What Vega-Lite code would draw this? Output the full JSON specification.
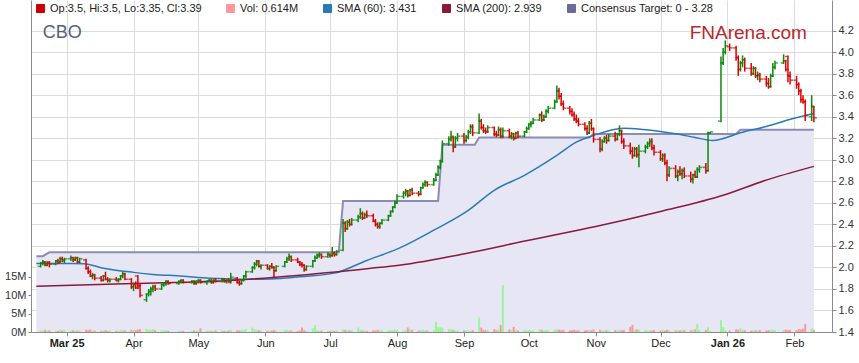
{
  "$schema": "https://vega.github.io/schema/vega-lite/v6.json",
  "width": 801,
  "height": 332,
  "autosize": {"type": "none"},
  "padding": {"left": 31, "top": 0, "right": 27, "bottom": 31},
  "background": "white",
  "config": {
    "view": {"stroke": null},
    "font": "Liberation Sans",
    "axis": {"labelFont": "Liberation Sans", "labelFontSize": 11, "labelColor": "#222222", "domainColor": "#8a8a8a", "tickColor": "#8a8a8a", "gridColor": "#dcdcdc", "gridWidth": 1, "title": null, "labelOverlap": false}
  },
  "datasets": {
    "ohlc": [
      {"d":"2025-02-17","o":2.01,"h":2.05,"l":2.00,"c":2.04,"v":0.5},
      {"d":"2025-02-18","o":2.04,"h":2.07,"l":2.02,"c":2.05,"v":0.4},
      {"d":"2025-02-19","o":2.05,"h":2.06,"l":2.01,"c":2.02,"v":0.6},
      {"d":"2025-02-20","o":2.02,"h":2.06,"l":2.01,"c":2.05,"v":0.4},
      {"d":"2025-02-21","o":2.04,"h":2.06,"l":2.00,"c":2.03,"v":0.5},
      {"d":"2025-02-24","o":2.03,"h":2.07,"l":2.02,"c":2.06,"v":0.4},
      {"d":"2025-02-25","o":2.06,"h":2.08,"l":2.03,"c":2.05,"v":0.3},
      {"d":"2025-02-26","o":2.05,"h":2.10,"l":2.04,"c":2.08,"v":0.6},
      {"d":"2025-02-27","o":2.08,"h":2.10,"l":2.05,"c":2.07,"v":0.4},
      {"d":"2025-02-28","o":2.06,"h":2.09,"l":2.04,"c":2.08,"v":0.5},
      {"d":"2025-03-03","o":2.08,"h":2.11,"l":2.06,"c":2.09,"v":0.4},
      {"d":"2025-03-04","o":2.09,"h":2.10,"l":2.05,"c":2.07,"v":0.5},
      {"d":"2025-03-05","o":2.07,"h":2.10,"l":2.06,"c":2.09,"v":0.3},
      {"d":"2025-03-06","o":2.09,"h":2.10,"l":2.04,"c":2.05,"v":0.4},
      {"d":"2025-03-07","o":2.05,"h":2.09,"l":2.04,"c":2.08,"v":0.4},
      {"d":"2025-03-10","o":2.07,"h":2.08,"l":1.98,"c":1.99,"v":0.6},
      {"d":"2025-03-11","o":1.99,"h":2.01,"l":1.94,"c":1.96,"v":0.5},
      {"d":"2025-03-12","o":1.96,"h":1.98,"l":1.91,"c":1.92,"v":0.7},
      {"d":"2025-03-13","o":1.92,"h":1.95,"l":1.89,"c":1.93,"v":0.4},
      {"d":"2025-03-14","o":1.93,"h":1.94,"l":1.88,"c":1.90,"v":0.4},
      {"d":"2025-03-17","o":1.90,"h":1.92,"l":1.87,"c":1.88,"v":0.3},
      {"d":"2025-03-18","o":1.88,"h":1.93,"l":1.87,"c":1.92,"v":0.4},
      {"d":"2025-03-19","o":1.92,"h":1.96,"l":1.88,"c":1.89,"v":0.5},
      {"d":"2025-03-20","o":1.89,"h":1.91,"l":1.86,"c":1.88,"v":0.3},
      {"d":"2025-03-21","o":1.88,"h":1.90,"l":1.86,"c":1.89,"v":0.4},
      {"d":"2025-03-24","o":1.89,"h":1.91,"l":1.87,"c":1.88,"v":0.3},
      {"d":"2025-03-25","o":1.88,"h":1.90,"l":1.86,"c":1.89,"v":0.3},
      {"d":"2025-03-26","o":1.89,"h":1.93,"l":1.88,"c":1.92,"v":0.4},
      {"d":"2025-03-27","o":1.92,"h":1.96,"l":1.90,"c":1.94,"v":0.5},
      {"d":"2025-03-28","o":1.94,"h":1.95,"l":1.88,"c":1.89,"v":0.4},
      {"d":"2025-03-31","o":1.89,"h":1.90,"l":1.80,"c":1.82,"v":0.6},
      {"d":"2025-04-01","o":1.82,"h":1.86,"l":1.78,"c":1.84,"v":0.5},
      {"d":"2025-04-02","o":1.84,"h":1.87,"l":1.80,"c":1.81,"v":0.5},
      {"d":"2025-04-03","o":1.92,"h":1.93,"l":1.80,"c":1.83,"v":0.7},
      {"d":"2025-04-04","o":1.83,"h":1.85,"l":1.72,"c":1.74,"v":0.8},
      {"d":"2025-04-07","o":1.70,"h":1.76,"l":1.68,"c":1.75,"v":0.9},
      {"d":"2025-04-08","o":1.75,"h":1.80,"l":1.73,"c":1.78,"v":0.6},
      {"d":"2025-04-09","o":1.77,"h":1.82,"l":1.74,"c":1.80,"v":0.6},
      {"d":"2025-04-10","o":1.80,"h":1.84,"l":1.77,"c":1.82,"v":0.8},
      {"d":"2025-04-11","o":1.82,"h":1.84,"l":1.78,"c":1.80,"v":0.5},
      {"d":"2025-04-14","o":1.80,"h":1.85,"l":1.79,"c":1.84,"v":0.4},
      {"d":"2025-04-15","o":1.84,"h":1.86,"l":1.82,"c":1.85,"v":0.4},
      {"d":"2025-04-16","o":1.85,"h":1.88,"l":1.83,"c":1.87,"v":0.5},
      {"d":"2025-04-17","o":1.87,"h":1.88,"l":1.84,"c":1.85,"v":0.3},
      {"d":"2025-04-22","o":1.85,"h":1.88,"l":1.84,"c":1.87,"v":0.3},
      {"d":"2025-04-23","o":1.87,"h":1.89,"l":1.85,"c":1.88,"v":0.4},
      {"d":"2025-04-24","o":1.88,"h":1.89,"l":1.85,"c":1.86,"v":0.3},
      {"d":"2025-04-28","o":1.86,"h":1.88,"l":1.85,"c":1.87,"v":0.3},
      {"d":"2025-04-29","o":1.87,"h":1.88,"l":1.84,"c":1.85,"v":0.4},
      {"d":"2025-04-30","o":1.85,"h":1.88,"l":1.84,"c":1.87,"v":0.3},
      {"d":"2025-05-01","o":1.87,"h":1.89,"l":1.85,"c":1.88,"v":0.4},
      {"d":"2025-05-02","o":1.88,"h":1.89,"l":1.85,"c":1.86,"v":1.0},
      {"d":"2025-05-05","o":1.86,"h":1.88,"l":1.84,"c":1.87,"v":0.3},
      {"d":"2025-05-06","o":1.87,"h":1.89,"l":1.86,"c":1.88,"v":0.4},
      {"d":"2025-05-07","o":1.88,"h":1.89,"l":1.85,"c":1.86,"v":0.3},
      {"d":"2025-05-08","o":1.86,"h":1.89,"l":1.85,"c":1.88,"v":0.3},
      {"d":"2025-05-09","o":1.88,"h":1.90,"l":1.86,"c":1.87,"v":0.4},
      {"d":"2025-05-12","o":1.87,"h":1.90,"l":1.86,"c":1.89,"v":0.4},
      {"d":"2025-05-13","o":1.89,"h":1.90,"l":1.86,"c":1.87,"v":0.3},
      {"d":"2025-05-14","o":1.87,"h":1.89,"l":1.85,"c":1.88,"v":0.3},
      {"d":"2025-05-15","o":1.88,"h":1.90,"l":1.86,"c":1.87,"v":0.4},
      {"d":"2025-05-16","o":1.86,"h":1.95,"l":1.85,"c":1.91,"v":0.6},
      {"d":"2025-05-19","o":1.90,"h":1.91,"l":1.85,"c":1.86,"v":0.5},
      {"d":"2025-05-20","o":1.86,"h":1.88,"l":1.83,"c":1.85,"v":0.4},
      {"d":"2025-05-21","o":1.85,"h":1.89,"l":1.84,"c":1.88,"v":0.5},
      {"d":"2025-05-22","o":1.88,"h":1.93,"l":1.87,"c":1.92,"v":0.6},
      {"d":"2025-05-23","o":1.92,"h":1.97,"l":1.90,"c":1.96,"v":0.7},
      {"d":"2025-05-26","o":1.96,"h":2.01,"l":1.95,"c":2.00,"v":1.2},
      {"d":"2025-05-27","o":2.00,"h":2.05,"l":1.98,"c":2.03,"v":0.8},
      {"d":"2025-05-28","o":2.03,"h":2.07,"l":2.01,"c":2.05,"v":0.6},
      {"d":"2025-05-29","o":2.06,"h":2.07,"l":2.00,"c":2.01,"v":0.5},
      {"d":"2025-05-30","o":2.01,"h":2.03,"l":1.98,"c":2.02,"v":0.4},
      {"d":"2025-06-02","o":2.02,"h":2.03,"l":1.98,"c":1.99,"v":0.4},
      {"d":"2025-06-03","o":1.99,"h":2.02,"l":1.97,"c":2.01,"v":0.3},
      {"d":"2025-06-04","o":2.01,"h":2.04,"l":1.99,"c":2.00,"v":0.4},
      {"d":"2025-06-05","o":2.00,"h":2.01,"l":1.90,"c":1.97,"v":0.5},
      {"d":"2025-06-06","o":1.97,"h":2.02,"l":1.96,"c":2.01,"v":0.4},
      {"d":"2025-06-10","o":2.01,"h":2.06,"l":2.00,"c":2.05,"v":0.5},
      {"d":"2025-06-11","o":2.05,"h":2.10,"l":2.04,"c":2.08,"v":0.6},
      {"d":"2025-06-12","o":2.08,"h":2.13,"l":2.06,"c":2.10,"v":0.5},
      {"d":"2025-06-13","o":2.10,"h":2.11,"l":2.05,"c":2.07,"v":0.4},
      {"d":"2025-06-16","o":2.07,"h":2.09,"l":2.04,"c":2.05,"v":0.3},
      {"d":"2025-06-17","o":2.05,"h":2.06,"l":2.01,"c":2.03,"v":0.4},
      {"d":"2025-06-18","o":2.03,"h":2.05,"l":2.00,"c":2.02,"v":1.2},
      {"d":"2025-06-19","o":2.02,"h":2.03,"l":1.96,"c":1.98,"v":0.5},
      {"d":"2025-06-20","o":1.98,"h":2.02,"l":1.97,"c":2.01,"v":0.3},
      {"d":"2025-06-23","o":2.01,"h":2.07,"l":2.00,"c":2.06,"v":1.0},
      {"d":"2025-06-24","o":2.06,"h":2.11,"l":2.05,"c":2.09,"v":1.9},
      {"d":"2025-06-25","o":2.09,"h":2.13,"l":2.08,"c":2.11,"v":0.5},
      {"d":"2025-06-26","o":2.11,"h":2.14,"l":2.09,"c":2.12,"v":0.3},
      {"d":"2025-06-27","o":2.12,"h":2.13,"l":2.08,"c":2.10,"v":0.4},
      {"d":"2025-06-30","o":2.10,"h":2.14,"l":2.09,"c":2.12,"v":0.3},
      {"d":"2025-07-01","o":2.12,"h":2.13,"l":2.09,"c":2.11,"v":0.3},
      {"d":"2025-07-02","o":2.11,"h":2.19,"l":2.10,"c":2.13,"v":0.4},
      {"d":"2025-07-03","o":2.13,"h":2.15,"l":2.10,"c":2.12,"v":0.3},
      {"d":"2025-07-04","o":2.12,"h":2.16,"l":2.11,"c":2.15,"v":0.4},
      {"d":"2025-07-07","o":2.16,"h":2.45,"l":2.15,"c":2.41,"v":0.7},
      {"d":"2025-07-08","o":2.41,"h":2.43,"l":2.33,"c":2.36,"v":0.6},
      {"d":"2025-07-09","o":2.36,"h":2.44,"l":2.35,"c":2.42,"v":0.5},
      {"d":"2025-07-10","o":2.42,"h":2.45,"l":2.38,"c":2.40,"v":0.4},
      {"d":"2025-07-11","o":2.40,"h":2.46,"l":2.39,"c":2.44,"v":0.5},
      {"d":"2025-07-14","o":2.44,"h":2.49,"l":2.42,"c":2.47,"v":1.2},
      {"d":"2025-07-15","o":2.47,"h":2.55,"l":2.45,"c":2.50,"v":0.6},
      {"d":"2025-07-16","o":2.50,"h":2.52,"l":2.44,"c":2.46,"v":0.4},
      {"d":"2025-07-17","o":2.46,"h":2.51,"l":2.45,"c":2.49,"v":0.4},
      {"d":"2025-07-18","o":2.49,"h":2.53,"l":2.46,"c":2.48,"v":0.3},
      {"d":"2025-07-21","o":2.48,"h":2.50,"l":2.42,"c":2.43,"v":0.5},
      {"d":"2025-07-22","o":2.43,"h":2.45,"l":2.38,"c":2.40,"v":0.4},
      {"d":"2025-07-23","o":2.40,"h":2.42,"l":2.36,"c":2.38,"v":0.6},
      {"d":"2025-07-24","o":2.38,"h":2.42,"l":2.36,"c":2.41,"v":0.5},
      {"d":"2025-07-25","o":2.41,"h":2.45,"l":2.40,"c":2.44,"v":0.4},
      {"d":"2025-07-28","o":2.44,"h":2.49,"l":2.43,"c":2.48,"v":0.4},
      {"d":"2025-07-29","o":2.48,"h":2.53,"l":2.47,"c":2.52,"v":0.5},
      {"d":"2025-07-30","o":2.52,"h":2.57,"l":2.51,"c":2.56,"v":0.5},
      {"d":"2025-07-31","o":2.56,"h":2.62,"l":2.55,"c":2.60,"v":0.6},
      {"d":"2025-08-01","o":2.60,"h":2.68,"l":2.59,"c":2.66,"v":0.6},
      {"d":"2025-08-04","o":2.66,"h":2.71,"l":2.64,"c":2.69,"v":0.4},
      {"d":"2025-08-05","o":2.69,"h":2.73,"l":2.66,"c":2.71,"v":0.5},
      {"d":"2025-08-06","o":2.71,"h":2.72,"l":2.65,"c":2.67,"v":1.2},
      {"d":"2025-08-07","o":2.67,"h":2.73,"l":2.66,"c":2.72,"v":0.7},
      {"d":"2025-08-08","o":2.72,"h":2.74,"l":2.67,"c":2.69,"v":0.6},
      {"d":"2025-08-11","o":2.69,"h":2.71,"l":2.66,"c":2.68,"v":0.4},
      {"d":"2025-08-12","o":2.68,"h":2.75,"l":2.67,"c":2.74,"v":0.5},
      {"d":"2025-08-13","o":2.74,"h":2.79,"l":2.73,"c":2.77,"v":0.6},
      {"d":"2025-08-14","o":2.77,"h":2.81,"l":2.75,"c":2.79,"v":0.5},
      {"d":"2025-08-15","o":2.79,"h":2.80,"l":2.75,"c":2.77,"v":0.4},
      {"d":"2025-08-18","o":2.77,"h":2.83,"l":2.76,"c":2.81,"v":0.5},
      {"d":"2025-08-19","o":2.81,"h":2.88,"l":2.80,"c":2.86,"v":2.8},
      {"d":"2025-08-20","o":2.86,"h":2.95,"l":2.85,"c":2.93,"v":1.3},
      {"d":"2025-08-21","o":2.93,"h":3.00,"l":2.91,"c":2.98,"v":1.3},
      {"d":"2025-08-22","o":2.99,"h":3.18,"l":2.98,"c":3.15,"v":1.2},
      {"d":"2025-08-25","o":3.15,"h":3.22,"l":3.13,"c":3.19,"v":0.8},
      {"d":"2025-08-26","o":3.19,"h":3.27,"l":3.17,"c":3.22,"v":0.7},
      {"d":"2025-08-27","o":3.21,"h":3.22,"l":3.07,"c":3.12,"v":0.6},
      {"d":"2025-08-28","o":3.12,"h":3.22,"l":3.11,"c":3.20,"v":0.5},
      {"d":"2025-08-29","o":3.20,"h":3.25,"l":3.17,"c":3.22,"v":0.4},
      {"d":"2025-09-01","o":3.22,"h":3.25,"l":3.15,"c":3.18,"v":0.4},
      {"d":"2025-09-02","o":3.18,"h":3.23,"l":3.16,"c":3.21,"v":0.5},
      {"d":"2025-09-03","o":3.21,"h":3.28,"l":3.19,"c":3.26,"v":0.4},
      {"d":"2025-09-04","o":3.26,"h":3.33,"l":3.24,"c":3.30,"v":0.3},
      {"d":"2025-09-05","o":3.31,"h":3.33,"l":3.22,"c":3.25,"v":0.5},
      {"d":"2025-09-08","o":3.25,"h":3.43,"l":3.24,"c":3.36,"v":3.9},
      {"d":"2025-09-09","o":3.36,"h":3.38,"l":3.28,"c":3.30,"v":1.2},
      {"d":"2025-09-10","o":3.30,"h":3.33,"l":3.25,"c":3.27,"v":0.6},
      {"d":"2025-09-11","o":3.27,"h":3.30,"l":3.24,"c":3.26,"v":0.5},
      {"d":"2025-09-12","o":3.26,"h":3.32,"l":3.25,"c":3.30,"v":0.6},
      {"d":"2025-09-15","o":3.30,"h":3.31,"l":3.22,"c":3.24,"v":0.8},
      {"d":"2025-09-16","o":3.24,"h":3.27,"l":3.21,"c":3.23,"v":0.5},
      {"d":"2025-09-17","o":3.23,"h":3.31,"l":3.22,"c":3.28,"v":0.6},
      {"d":"2025-09-18","o":3.28,"h":3.30,"l":3.20,"c":3.22,"v":1.9},
      {"d":"2025-09-19","o":3.22,"h":3.30,"l":3.20,"c":3.27,"v":12.7},
      {"d":"2025-09-22","o":3.27,"h":3.29,"l":3.20,"c":3.22,"v":0.7},
      {"d":"2025-09-23","o":3.22,"h":3.26,"l":3.19,"c":3.24,"v":0.5},
      {"d":"2025-09-24","o":3.24,"h":3.25,"l":3.18,"c":3.20,"v":1.4},
      {"d":"2025-09-25","o":3.20,"h":3.26,"l":3.19,"c":3.25,"v":0.6},
      {"d":"2025-09-26","o":3.25,"h":3.27,"l":3.20,"c":3.22,"v":0.4},
      {"d":"2025-09-29","o":3.22,"h":3.27,"l":3.21,"c":3.26,"v":0.5},
      {"d":"2025-09-30","o":3.26,"h":3.31,"l":3.25,"c":3.29,"v":0.4},
      {"d":"2025-10-01","o":3.29,"h":3.34,"l":3.28,"c":3.33,"v":0.5},
      {"d":"2025-10-02","o":3.33,"h":3.36,"l":3.30,"c":3.34,"v":0.4},
      {"d":"2025-10-03","o":3.34,"h":3.39,"l":3.33,"c":3.37,"v":0.4},
      {"d":"2025-10-06","o":3.37,"h":3.43,"l":3.36,"c":3.41,"v":0.7},
      {"d":"2025-10-07","o":3.42,"h":3.45,"l":3.35,"c":3.37,"v":0.6},
      {"d":"2025-10-08","o":3.37,"h":3.42,"l":3.36,"c":3.40,"v":0.4},
      {"d":"2025-10-09","o":3.40,"h":3.47,"l":3.39,"c":3.45,"v":0.6},
      {"d":"2025-10-10","o":3.45,"h":3.50,"l":3.43,"c":3.48,"v":0.5},
      {"d":"2025-10-13","o":3.48,"h":3.56,"l":3.47,"c":3.54,"v":0.6},
      {"d":"2025-10-14","o":3.54,"h":3.69,"l":3.53,"c":3.64,"v":0.7},
      {"d":"2025-10-15","o":3.64,"h":3.67,"l":3.56,"c":3.59,"v":0.6},
      {"d":"2025-10-16","o":3.59,"h":3.62,"l":3.50,"c":3.52,"v":0.5},
      {"d":"2025-10-17","o":3.52,"h":3.55,"l":3.46,"c":3.48,"v":0.6},
      {"d":"2025-10-20","o":3.48,"h":3.50,"l":3.42,"c":3.45,"v":0.4},
      {"d":"2025-10-21","o":3.45,"h":3.48,"l":3.40,"c":3.42,"v":0.5},
      {"d":"2025-10-22","o":3.42,"h":3.45,"l":3.36,"c":3.38,"v":0.6},
      {"d":"2025-10-23","o":3.38,"h":3.42,"l":3.34,"c":3.36,"v":0.4},
      {"d":"2025-10-24","o":3.36,"h":3.39,"l":3.31,"c":3.33,"v":0.5},
      {"d":"2025-10-27","o":3.33,"h":3.35,"l":3.27,"c":3.29,"v":0.4},
      {"d":"2025-10-28","o":3.29,"h":3.32,"l":3.23,"c":3.25,"v":0.5},
      {"d":"2025-10-29","o":3.25,"h":3.36,"l":3.24,"c":3.34,"v":0.6},
      {"d":"2025-10-30","o":3.34,"h":3.38,"l":3.27,"c":3.29,"v":0.5},
      {"d":"2025-10-31","o":3.29,"h":3.30,"l":3.16,"c":3.19,"v":0.7},
      {"d":"2025-11-03","o":3.19,"h":3.21,"l":3.07,"c":3.10,"v":0.6},
      {"d":"2025-11-04","o":3.10,"h":3.19,"l":3.08,"c":3.17,"v":0.4},
      {"d":"2025-11-05","o":3.17,"h":3.22,"l":3.16,"c":3.20,"v":0.4},
      {"d":"2025-11-06","o":3.20,"h":3.23,"l":3.15,"c":3.18,"v":0.5},
      {"d":"2025-11-07","o":3.18,"h":3.24,"l":3.17,"c":3.22,"v":0.4},
      {"d":"2025-11-10","o":3.22,"h":3.26,"l":3.17,"c":3.19,"v":0.5},
      {"d":"2025-11-11","o":3.19,"h":3.25,"l":3.18,"c":3.24,"v":0.4},
      {"d":"2025-11-12","o":3.24,"h":3.32,"l":3.22,"c":3.27,"v":0.6},
      {"d":"2025-11-13","o":3.27,"h":3.28,"l":3.15,"c":3.17,"v":0.5},
      {"d":"2025-11-14","o":3.17,"h":3.20,"l":3.10,"c":3.13,"v":0.6},
      {"d":"2025-11-17","o":3.13,"h":3.16,"l":3.05,"c":3.08,"v":1.4},
      {"d":"2025-11-18","o":3.08,"h":3.12,"l":3.01,"c":3.04,"v":1.9},
      {"d":"2025-11-19","o":3.04,"h":3.12,"l":3.03,"c":3.10,"v":0.6},
      {"d":"2025-11-20","o":3.10,"h":3.12,"l":3.02,"c":3.05,"v":0.7},
      {"d":"2025-11-21","o":3.04,"h":3.14,"l":2.93,"c":3.08,"v":0.6},
      {"d":"2025-11-24","o":3.08,"h":3.14,"l":3.06,"c":3.12,"v":0.5},
      {"d":"2025-11-25","o":3.12,"h":3.17,"l":3.10,"c":3.15,"v":0.4},
      {"d":"2025-11-26","o":3.15,"h":3.20,"l":3.12,"c":3.17,"v":0.5},
      {"d":"2025-11-27","o":3.17,"h":3.20,"l":3.09,"c":3.11,"v":0.4},
      {"d":"2025-11-28","o":3.11,"h":3.14,"l":3.04,"c":3.07,"v":0.5},
      {"d":"2025-12-01","o":3.07,"h":3.09,"l":2.99,"c":3.01,"v":0.4},
      {"d":"2025-12-02","o":3.01,"h":3.06,"l":2.98,"c":3.04,"v":0.5},
      {"d":"2025-12-03","o":3.04,"h":3.06,"l":2.95,"c":2.97,"v":0.4},
      {"d":"2025-12-04","o":2.97,"h":3.00,"l":2.80,"c":2.86,"v":0.6},
      {"d":"2025-12-05","o":2.86,"h":2.94,"l":2.84,"c":2.92,"v":0.5},
      {"d":"2025-12-08","o":2.92,"h":2.95,"l":2.83,"c":2.85,"v":0.4},
      {"d":"2025-12-09","o":2.85,"h":2.91,"l":2.80,"c":2.89,"v":0.5},
      {"d":"2025-12-10","o":2.89,"h":2.94,"l":2.85,"c":2.87,"v":0.4},
      {"d":"2025-12-11","o":2.87,"h":2.92,"l":2.82,"c":2.90,"v":0.6},
      {"d":"2025-12-12","o":2.90,"h":2.93,"l":2.83,"c":2.85,"v":0.5},
      {"d":"2025-12-15","o":2.85,"h":2.89,"l":2.79,"c":2.82,"v":0.5},
      {"d":"2025-12-16","o":2.82,"h":2.87,"l":2.78,"c":2.86,"v":0.6},
      {"d":"2025-12-17","o":2.86,"h":2.90,"l":2.83,"c":2.84,"v":0.7},
      {"d":"2025-12-18","o":2.84,"h":2.93,"l":2.83,"c":2.91,"v":2.2},
      {"d":"2025-12-19","o":2.91,"h":2.95,"l":2.88,"c":2.93,"v":0.6},
      {"d":"2025-12-22","o":2.93,"h":2.97,"l":2.87,"c":2.90,"v":0.5},
      {"d":"2025-12-23","o":2.90,"h":3.26,"l":2.89,"c":3.25,"v":1.3},
      {"d":"2025-12-24","o":3.25,"h":3.26,"l":3.24,"c":3.26,"v":0.3},
      {"d":"2025-12-29","o":3.36,"h":3.96,"l":3.35,"c":3.90,"v":3.2},
      {"d":"2025-12-30","o":3.90,"h":4.04,"l":3.88,"c":4.00,"v":1.3},
      {"d":"2025-12-31","o":4.00,"h":4.11,"l":3.98,"c":4.06,"v":0.5},
      {"d":"2026-01-02","o":4.05,"h":4.08,"l":4.01,"c":4.04,"v":0.4},
      {"d":"2026-01-05","o":4.04,"h":4.06,"l":3.92,"c":3.95,"v":0.7},
      {"d":"2026-01-06","o":3.95,"h":3.97,"l":3.78,"c":3.84,"v":0.6},
      {"d":"2026-01-07","o":3.84,"h":3.92,"l":3.82,"c":3.90,"v":1.0},
      {"d":"2026-01-08","o":3.90,"h":3.97,"l":3.86,"c":3.93,"v":0.6},
      {"d":"2026-01-09","o":3.93,"h":3.95,"l":3.82,"c":3.85,"v":0.5},
      {"d":"2026-01-12","o":3.85,"h":3.90,"l":3.78,"c":3.80,"v":0.4},
      {"d":"2026-01-13","o":3.80,"h":3.87,"l":3.79,"c":3.85,"v":0.5},
      {"d":"2026-01-14","o":3.85,"h":3.86,"l":3.76,"c":3.78,"v":0.4},
      {"d":"2026-01-15","o":3.78,"h":3.82,"l":3.74,"c":3.79,"v":0.4},
      {"d":"2026-01-16","o":3.79,"h":3.81,"l":3.72,"c":3.75,"v":0.5},
      {"d":"2026-01-19","o":3.75,"h":3.78,"l":3.68,"c":3.71,"v":0.4},
      {"d":"2026-01-20","o":3.71,"h":3.76,"l":3.66,"c":3.68,"v":0.5},
      {"d":"2026-01-21","o":3.68,"h":3.80,"l":3.67,"c":3.78,"v":0.6},
      {"d":"2026-01-22","o":3.78,"h":3.90,"l":3.77,"c":3.86,"v":0.6},
      {"d":"2026-01-23","o":3.86,"h":3.92,"l":3.84,"c":3.90,"v":0.5},
      {"d":"2026-01-27","o":3.90,"h":3.98,"l":3.89,"c":3.92,"v":0.6},
      {"d":"2026-01-28","o":3.92,"h":3.93,"l":3.82,"c":3.84,"v":0.7},
      {"d":"2026-01-29","o":3.96,"h":3.97,"l":3.72,"c":3.78,"v":0.5},
      {"d":"2026-01-30","o":3.78,"h":3.82,"l":3.70,"c":3.74,"v":0.6},
      {"d":"2026-02-02","o":3.74,"h":3.78,"l":3.66,"c":3.70,"v":0.5},
      {"d":"2026-02-03","o":3.70,"h":3.72,"l":3.60,"c":3.64,"v":0.8},
      {"d":"2026-02-04","o":3.64,"h":3.66,"l":3.53,"c":3.56,"v":0.7},
      {"d":"2026-02-05","o":3.56,"h":3.60,"l":3.52,"c":3.54,"v":0.9},
      {"d":"2026-02-06","o":3.54,"h":3.56,"l":3.36,"c":3.41,"v":2.2},
      {"d":"2026-02-09","o":3.40,"h":3.60,"l":3.36,"c":3.49,"v":1.0},
      {"d":"2026-02-10","o":3.50,"h":3.50,"l":3.35,"c":3.39,"v":0.614}
    ],
    "sma": [
      {"d":"2025-02-15","s":"SMA (60): 3.431","p":2.037},
      {"d":"2025-03-09","s":"SMA (60): 3.431","p":2.035},
      {"d":"2025-03-18","s":"SMA (60): 3.431","p":1.993},
      {"d":"2025-04-01","s":"SMA (60): 3.431","p":1.954},
      {"d":"2025-04-10","s":"SMA (60): 3.431","p":1.935},
      {"d":"2025-04-24","s":"SMA (60): 3.431","p":1.919},
      {"d":"2025-05-03","s":"SMA (60): 3.431","p":1.903},
      {"d":"2025-05-18","s":"SMA (60): 3.431","p":1.891},
      {"d":"2025-05-30","s":"SMA (60): 3.431","p":1.889},
      {"d":"2025-06-08","s":"SMA (60): 3.431","p":1.896},
      {"d":"2025-06-17","s":"SMA (60): 3.431","p":1.913},
      {"d":"2025-07-03","s":"SMA (60): 3.431","p":1.947},
      {"d":"2025-07-18","s":"SMA (60): 3.431","p":2.065},
      {"d":"2025-08-02","s":"SMA (60): 3.431","p":2.179},
      {"d":"2025-08-18","s":"SMA (60): 3.431","p":2.346},
      {"d":"2025-09-03","s":"SMA (60): 3.431","p":2.531},
      {"d":"2025-09-15","s":"SMA (60): 3.431","p":2.717},
      {"d":"2025-09-29","s":"SMA (60): 3.431","p":2.856},
      {"d":"2025-10-14","s":"SMA (60): 3.431","p":3.041},
      {"d":"2025-10-23","s":"SMA (60): 3.431","p":3.164},
      {"d":"2025-10-31","s":"SMA (60): 3.431","p":3.227},
      {"d":"2025-11-14","s":"SMA (60): 3.431","p":3.294},
      {"d":"2025-11-23","s":"SMA (60): 3.431","p":3.282},
      {"d":"2025-12-08","s":"SMA (60): 3.431","p":3.242},
      {"d":"2025-12-17","s":"SMA (60): 3.431","p":3.208},
      {"d":"2025-12-25","s":"SMA (60): 3.431","p":3.180},
      {"d":"2026-01-08","s":"SMA (60): 3.431","p":3.257},
      {"d":"2026-01-18","s":"SMA (60): 3.431","p":3.304},
      {"d":"2026-01-31","s":"SMA (60): 3.431","p":3.381},
      {"d":"2026-02-10","s":"SMA (60): 3.431","p":3.431},
      {"d":"2025-02-15","s":"SMA (200): 2.939","p":1.826},
      {"d":"2025-04-01","s":"SMA (200): 2.939","p":1.851},
      {"d":"2025-05-18","s":"SMA (200): 2.939","p":1.882},
      {"d":"2025-06-17","s":"SMA (200): 2.939","p":1.928},
      {"d":"2025-07-19","s":"SMA (200): 2.939","p":1.991},
      {"d":"2025-08-02","s":"SMA (200): 2.939","p":2.021},
      {"d":"2025-09-02","s":"SMA (200): 2.939","p":2.130},
      {"d":"2025-10-01","s":"SMA (200): 2.939","p":2.253},
      {"d":"2025-11-01","s":"SMA (200): 2.939","p":2.380},
      {"d":"2025-12-01","s":"SMA (200): 2.939","p":2.520},
      {"d":"2025-12-30","s":"SMA (200): 2.939","p":2.670},
      {"d":"2026-01-18","s":"SMA (200): 2.939","p":2.805},
      {"d":"2026-02-10","s":"SMA (200): 2.939","p":2.939}
    ],
    "target": [
      {"d":"2025-02-15","t":2.105},
      {"d":"2025-02-18","t":2.105},
      {"d":"2025-02-21","t":2.14},
      {"d":"2025-07-05","t":2.14},
      {"d":"2025-07-07","t":2.617},
      {"d":"2025-08-20","t":2.617},
      {"d":"2025-08-22","t":3.14},
      {"d":"2025-09-06","t":3.14},
      {"d":"2025-09-08","t":3.208},
      {"d":"2025-10-29","t":3.208},
      {"d":"2025-10-31","t":3.24},
      {"d":"2026-01-05","t":3.24},
      {"d":"2026-01-07","t":3.28},
      {"d":"2026-02-10","t":3.28}
    ]
  },
  "layer": [
    {
      "layer": [
        {
          "data": {"values": [{}]},
          "mark": {"type": "rect", "color": "#e6e6e6"},
          "encoding": {
            "x": {"field": "d", "type": "temporal", "scale": {"type": "utc", "domain": [{"year": 2025, "month": 2, "date": 14, "hours": 19, "minutes": 48, "utc": true}, {"year": 2026, "month": 2, "date": 16, "hours": 2, "minutes": 10, "utc": true}]},
              "axis": {"orient": "bottom", "values": [
                {"year": 2025, "month": 3, "date": 1, "utc": true},
                {"year": 2025, "month": 4, "date": 1, "utc": true},
                {"year": 2025, "month": 5, "date": 1, "utc": true},
                {"year": 2025, "month": 6, "date": 1, "utc": true},
                {"year": 2025, "month": 7, "date": 1, "utc": true},
                {"year": 2025, "month": 8, "date": 1, "utc": true},
                {"year": 2025, "month": 9, "date": 1, "utc": true},
                {"year": 2025, "month": 10, "date": 1, "utc": true},
                {"year": 2025, "month": 11, "date": 1, "utc": true},
                {"year": 2025, "month": 12, "date": 1, "utc": true},
                {"year": 2026, "month": 1, "date": 1, "utc": true},
                {"year": 2026, "month": 2, "date": 1, "utc": true}
              ],
              "tickCount": 30,
              "grid": true, "tickSize": 4, "labelPadding": 1, "labelFontSize": 11, "labelColor": "#222222", "labelOverlap": false,
              "labelExpr": "(utcmonth(datum.value) == 0 || (utcmonth(datum.value) == 2 && utcyear(datum.value) == 2025)) ? utcFormat(datum.value, '%b %y') : utcFormat(datum.value, '%b')",
              "labelFontWeight": {"condition": {"test": "utcmonth(datum.value) == 0 || (utcmonth(datum.value) == 2 && utcyear(datum.value) == 2025)", "value": "bold"}, "value": "normal"}
            }},
            "y": {"datum": 4.304, "type": "quantitative", "scale": {"domain": [1.4, 4.485], "nice": false, "zero": false},
              "axis": {"orient": "right", "values": [1.4, 1.6, 1.8, 2.0, 2.2, 2.4, 2.6, 2.8, 3.0, 3.2, 3.4, 3.6, 3.8, 4.0, 4.2], "tickCount": 30, "format": ".1f", "grid": true, "tickSize": 4, "labelPadding": 2, "labelColor": "#333333", "labelOverlap": false}},
            "y2": {"datum": 4.485}
          }
        },
        {
          "data": {"name": "target"},
          "mark": {"type": "area", "color": "#e6e6f5", "opacity": 1, "clip": true, "line": {"color": "#8c8cb2", "strokeWidth": 2}},
          "encoding": {
            "x": {"field": "d", "type": "temporal"},
            "y": {"field": "t", "type": "quantitative"},
            "y2": {"datum": 1.4}
          }
        }
      ]
    },
    {
      "data": {"name": "ohlc"},
      "mark": {"type": "bar", "width": 2},
      "encoding": {
        "x": {"field": "d", "type": "temporal"},
        "y": {"field": "v", "type": "quantitative", "scale": {"domain": [0, 90], "nice": false},
          "axis": {"orient": "left", "values": [0, 5, 10, 15], "tickCount": 30, "labelExpr": "datum.value + 'M'", "grid": false, "tickSize": 3, "labelPadding": 2, "labelColor": "#333333", "labelOverlap": false}},
        "color": {"condition": [{"test": "datum.c == datum.o", "value": "#8c8c8c"}, {"test": "datum.c > datum.o", "value": "#99f599"}], "value": "#ff9999"}
      }
    },
    {
      "layer": [
        {
          "data": {"name": "sma"},
          "mark": {"type": "line", "strokeWidth": 1.5, "interpolate": "monotone"},
          "encoding": {
            "x": {"field": "d", "type": "temporal"},
            "y": {"field": "p", "type": "quantitative", "scale": {"domain": [1.4, 4.485], "nice": false, "zero": false}, "axis": null},
            "color": {"field": "s", "type": "nominal",
              "scale": {"domain": ["Op:3.5, Hi:3.5, Lo:3.35, Cl:3.39", "Vol: 0.614M", "SMA (60): 3.431", "SMA (200): 2.939", "Consensus Target: 0 - 3.28"], "range": ["#cc0000", "#ff9999", "#2a7ab8", "#8a1a3c", "#6a6a9c"]},
              "legend": {"orient": "none", "legendX": 4, "legendY": 3, "direction": "horizontal", "title": null, "symbolType": "square", "symbolSize": 64, "symbolStrokeColor": "#333333", "symbolStrokeWidth": 1, "labelFont": "Liberation Sans", "labelFontSize": 11, "labelColor": "#222222", "labelOffset": 4, "columnPadding": 22, "gridAlign": "none", "padding": 0,
                "encode": {"symbols": {"update": {"fill": {"scale": "color", "field": "value"}, "fillOpacity": {"value": 1}, "stroke": {"value": "#333333"}, "strokeWidth": {"value": 1}}}}}
            }
          }
        },
        {
          "data": {"name": "ohlc"},
          "mark": {"type": "rule", "strokeWidth": 1.5},
          "encoding": {
            "x": {"field": "d", "type": "temporal"},
            "y": {"field": "l", "type": "quantitative"},
            "y2": {"field": "h"},
            "color": {"condition": {"test": "datum.c >= datum.o", "value": "#0a8a0a"}, "value": "#dd0000"}
          }
        },
        {
          "data": {"name": "ohlc"},
          "mark": {"type": "tick", "orient": "horizontal", "size": 3, "thickness": 1.5, "xOffset": -1.5},
          "encoding": {
            "x": {"field": "d", "type": "temporal"},
            "y": {"field": "o", "type": "quantitative"},
            "color": {"condition": {"test": "datum.c >= datum.o", "value": "#0a8a0a"}, "value": "#dd0000"}
          }
        },
        {
          "data": {"name": "ohlc"},
          "mark": {"type": "tick", "orient": "horizontal", "size": 3, "thickness": 1.5, "xOffset": 1.5},
          "encoding": {
            "x": {"field": "d", "type": "temporal"},
            "y": {"field": "c", "type": "quantitative"},
            "color": {"condition": {"test": "datum.c >= datum.o", "value": "#0a8a0a"}, "value": "#dd0000"}
          }
        },
        {
          "data": {"values": [{}]},
          "mark": {"type": "text", "align": "left", "baseline": "middle", "fontSize": 18, "font": "Liberation Sans", "color": "#55627c"},
          "encoding": {
            "x": {"datum": {"year": 2025, "month": 2, "date": 18, "utc": true}, "type": "temporal"},
            "y": {"datum": 4.177, "type": "quantitative"},
            "text": {"value": "CBO"}
          }
        },
        {
          "data": {"values": [{}]},
          "mark": {"type": "text", "align": "left", "baseline": "middle", "fontSize": 19, "font": "Liberation Sans", "color": "#b8282e"},
          "encoding": {
            "x": {"datum": {"year": 2025, "month": 12, "date": 14, "hours": 12, "utc": true}, "type": "temporal"},
            "y": {"datum": 4.177, "type": "quantitative"},
            "text": {"value": "FNArena.com"}
          }
        }
      ]
    }
  ],
  "resolve": {"scale": {"y": "independent"}}
}
